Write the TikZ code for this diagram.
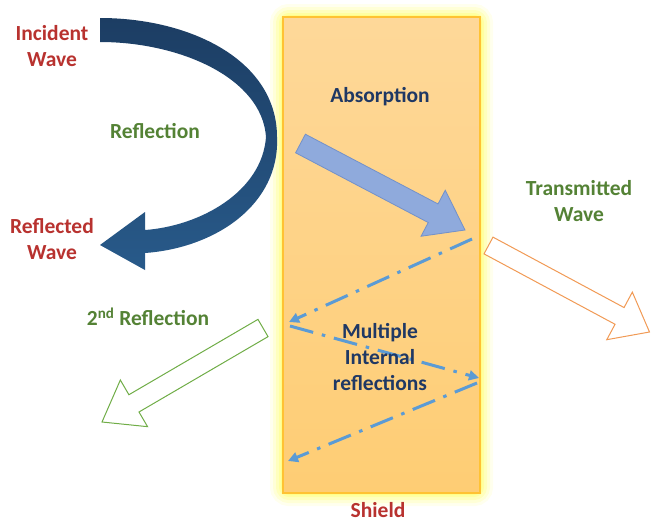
\documentclass[tikz,border=0pt]{standalone}
\usepackage{fontspec}
\setmainfont{Carlito}
\usetikzlibrary{calc,arrows.meta}
\definecolor{navy}{HTML}{1F3864}
\definecolor{wred}{HTML}{B8322F}
\definecolor{wgreen}{HTML}{548235}
\definecolor{absfill}{HTML}{8FAADC}
\definecolor{absline}{HTML}{7391C9}
\definecolor{dashblue}{HTML}{5B9BD5}
\definecolor{trorange}{HTML}{F19A55}
\definecolor{rgreen}{HTML}{70AD47}
\definecolor{shtop}{HTML}{FED899}
\definecolor{shbot}{HTML}{FECD74}
\definecolor{shline}{HTML}{FFC233}
\definecolor{glow}{HTML}{FFFF70}
\definecolor{arctop}{HTML}{1C3D63}
\definecolor{arcbot}{HTML}{285A8A}
\newcommand\blockarrow[6]{% style, start, tip, shaft half width, head half width, head length
  \coordinate (hb) at ($(#3)!#6!(#2)$);
  \draw[#1] ($(#2)!#4!90:(#3)$) -- ($(hb)!#4!-90:(#2)$) -- ($(hb)!#5!-90:(#2)$) -- (#3)
    -- ($(hb)!#5!90:(#2)$) -- ($(hb)!#4!90:(#2)$) -- ($(#2)!#4!-90:(#3)$) -- cycle;}
\tikzset{
  lbl/.style={font=\fontsize{21.5}{26}\selectfont\bfseries, align=center, inner sep=0pt},
  dashdot/.style={dashblue, line width=3pt, dash pattern=on 24pt off 9pt on 3.5pt off 9pt, -{Triangle[length=10pt,width=10pt]}},
}
\begin{document}
\begin{tikzpicture}[x=1pt,y=-1pt]
\useasboundingbox (0,0) rectangle (651,523);
% shield glow
\coordinate (sh1) at (283,17);
\coordinate (sh2) at (480,493);
\foreach \w/\o in {26/0.12,20/0.18,14/0.25,8/0.35,4/0.5}
  \draw[line width=\w pt, glow, opacity=\o, rounded corners=6pt] (sh1) rectangle (sh2);
\shade[top color=shtop, bottom color=shbot] (sh1) rectangle (sh2);
\draw[shline, line width=2pt] (sh1) rectangle (sh2);
% curved reflection arrow
\shade[top color=arctop, bottom color=arcbot]
  (100,18) .. controls (190,18) and (277,60) .. (277,137)
  .. controls (280,205) and (215,248) .. (145,253)
  -- (145,270) -- (100,245) -- (145,212) -- (145,230)
  .. controls (200,226) and (262,192) .. (266,137)
  .. controls (262,78) and (180,42) .. (100,42) -- cycle;
% absorption arrow
\coordinate (abs1) at (300.5,143.5);
\coordinate (abs2) at (465,230);
\blockarrow{fill=absfill, draw=absline, line width=0.8pt}{abs1}{abs2}{10.5pt}{26pt}{36pt}
% transmitted arrow
\coordinate (tr1) at (488.5,245.5);
\coordinate (tr2) at (649.5,332);
\blockarrow{fill=white, draw=trorange, line width=1pt}{tr1}{tr2}{9.5pt}{27pt}{34pt}
% second reflection arrow
\coordinate (sr1) at (263,328);
\coordinate (sr2) at (102,422);
\blockarrow{fill=white, draw=rgreen, line width=1pt}{sr1}{sr2}{10pt}{27pt}{37pt}
% internal reflections
\coordinate (d1) at (472,239);
\coordinate (d2) at (289,322);
\coordinate (d3) at (290,326);
\coordinate (d4) at (479,378);
\coordinate (d5) at (477,383);
\coordinate (d6) at (288,461);
\draw[dashdot] (d1) -- (d2);
\draw[dashdot] (d3) -- (d4);
\draw[dashdot] (d5) -- (d6);
% labels
\node[lbl, wred] (inc) at (52,46) {Incident\\Wave};
\node[lbl, wgreen] (refl) at (155,131) {Reflection};
\node[lbl, wred] (rwave) at (52,239) {Reflected\\Wave};
\node[lbl, navy] (absorb) at (380,97) {Absorption};
\node[lbl, wgreen] (trans) at (579,201) {Transmitted\\Wave};
\node[lbl, wgreen] (second) at (148,317) {2\textsuperscript{nd} Reflection};
\node[lbl, navy] (multi) at (380,357) {Multiple\\Internal\\reflections};
\node[lbl, wred] (shield) at (378,510) {Shield};
\end{tikzpicture}
\end{document}
